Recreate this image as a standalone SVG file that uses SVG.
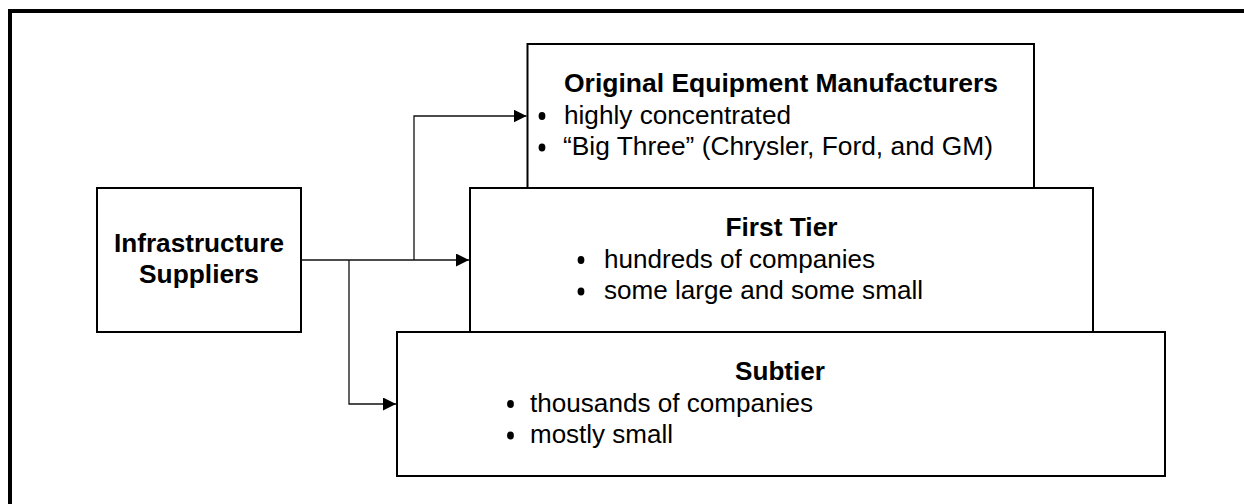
<svg xmlns="http://www.w3.org/2000/svg" width="1244" height="504" viewBox="0 0 1244 504">
<defs>
<style>
.box{fill:#fff;stroke:#000;stroke-width:2}
.t{font-family:"Liberation Sans",Arial,sans-serif;font-size:25px;fill:#000}
.b{font-weight:bold}
.c{stroke:#111;stroke-width:1.3;fill:none}
.dot{fill:#000}
</style>
<marker id="ah" markerWidth="13" markerHeight="13" refX="13" refY="6.5" orient="auto" markerUnits="userSpaceOnUse">
<path d="M0,0 L13,6.5 L0,13 Z" fill="#000"/>
</marker>
</defs>
<rect width="1244" height="504" fill="#fff"/>
<path d="M10,504 V11 H1244" fill="none" stroke="#000" stroke-width="4"/>
<g id="infrastructure-suppliers">
<rect class="box" x="97" y="188" width="204" height="144"/>
<text class="t b" x="199" y="252" text-anchor="middle" textLength="170" lengthAdjust="spacingAndGlyphs">Infrastructure</text>
<text class="t b" x="199" y="283" text-anchor="middle" textLength="120" lengthAdjust="spacingAndGlyphs">Suppliers</text>
</g>
<g id="oem">
<rect class="box" x="527.5" y="44" width="506.5" height="144"/>
<text class="t b" x="781" y="92" text-anchor="middle" textLength="434" lengthAdjust="spacingAndGlyphs">Original Equipment Manufacturers</text>
<ellipse class="dot" cx="542" cy="116" rx="3.4" ry="4"/>
<text class="t" x="564" y="123.5" textLength="227" lengthAdjust="spacingAndGlyphs">highly concentrated</text>
<ellipse class="dot" cx="542" cy="147.5" rx="3.4" ry="4"/>
<text class="t" x="563" y="155" textLength="430" lengthAdjust="spacingAndGlyphs">“Big Three” (Chrysler, Ford, and GM)</text>
</g>
<g id="first-tier">
<rect class="box" x="470" y="188" width="623" height="144"/>
<text class="t b" x="781.5" y="236" text-anchor="middle" textLength="112" lengthAdjust="spacingAndGlyphs">First Tier</text>
<ellipse class="dot" cx="581" cy="260" rx="3.4" ry="4"/>
<text class="t" x="604" y="267.5" textLength="271" lengthAdjust="spacingAndGlyphs">hundreds of companies</text>
<ellipse class="dot" cx="581" cy="291.5" rx="3.4" ry="4"/>
<text class="t" x="604" y="299" textLength="319" lengthAdjust="spacingAndGlyphs">some large and some small</text>
</g>
<g id="subtier">
<rect class="box" x="397" y="332" width="768" height="144"/>
<text class="t b" x="780" y="380" text-anchor="middle" textLength="90" lengthAdjust="spacingAndGlyphs">Subtier</text>
<ellipse class="dot" cx="510.5" cy="404" rx="3.4" ry="4"/>
<text class="t" x="530" y="411.5" textLength="283" lengthAdjust="spacingAndGlyphs">thousands of companies</text>
<ellipse class="dot" cx="510.5" cy="435.5" rx="3.4" ry="4"/>
<text class="t" x="530" y="443" textLength="143" lengthAdjust="spacingAndGlyphs">mostly small</text>
</g>
<g id="connectors">
<path class="c" d="M301,260 H469" marker-end="url(#ah)"/>
<path class="c" d="M414,260 V116 H526.5" marker-end="url(#ah)"/>
<path class="c" d="M349,260 V404 H396" marker-end="url(#ah)"/>
</g>
</svg>
